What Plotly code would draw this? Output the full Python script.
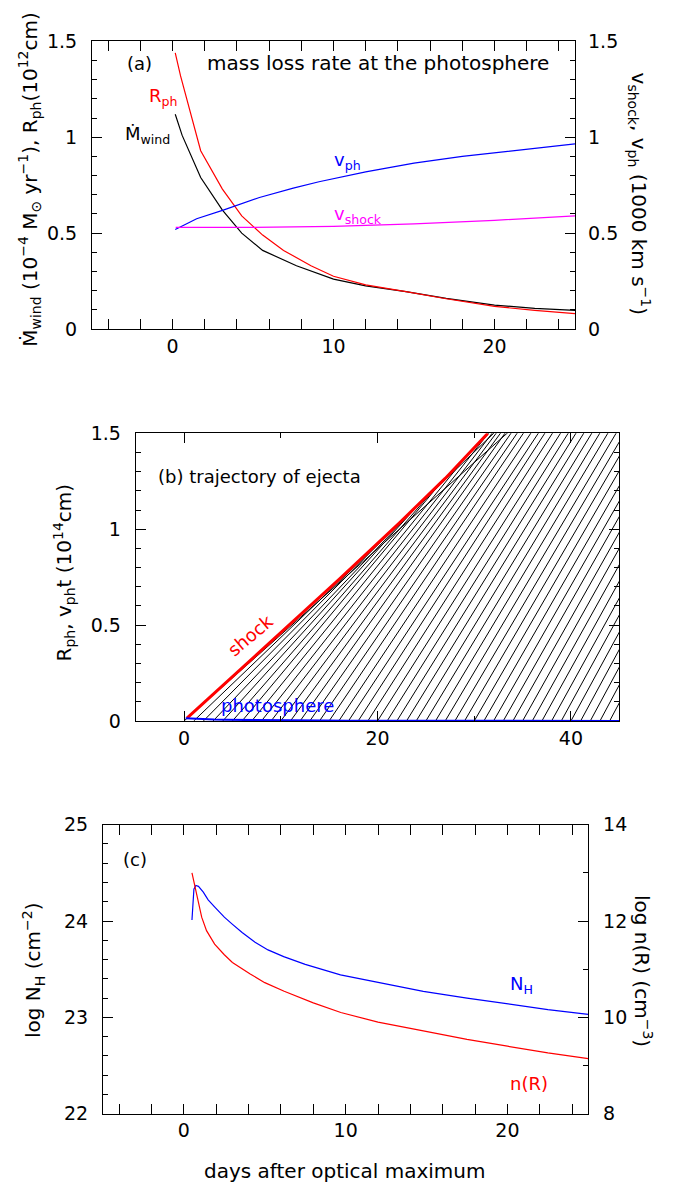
import numpy as np
import plotly.graph_objects as go

# ---------------- panel (a): wind mass-loss rate, photospheric radius, velocities
mdot_day = [0.17, 0.6, 1.75, 3.1, 4.3, 5.6, 7.7, 10, 12, 14.5, 17, 20, 22.5, 25]
mdot_val = [1.12, 1.01, 0.79, 0.62, 0.50, 0.41, 0.33, 0.26, 0.225, 0.195, 0.16, 0.125, 0.108, 0.097]

rph_day = [0.17, 0.5, 1.75, 3.1, 4.3, 5.6, 6.9, 8.6, 10, 12, 14.5, 17, 20, 22.5, 25]
rph_val = [1.44, 1.32, 0.93, 0.73, 0.59, 0.49, 0.41, 0.33, 0.275, 0.23, 0.195, 0.158, 0.118, 0.097, 0.08]

vph_day = [0.17, 1.5, 3.15, 5.4, 7.5, 9.1, 12, 15, 18, 20, 22.5, 25]
vph_val = [0.519, 0.575, 0.62, 0.686, 0.735, 0.768, 0.82, 0.865, 0.90, 0.918, 0.943, 0.966]

vsh_day = [0.2, 5, 10, 15, 20, 25]
vsh_val = [0.53, 0.53, 0.535, 0.548, 0.567, 0.59]

# ---------------- panel (b): shock front, photosphere and ejecta trajectories
shock_day = [0.3, 5, 10, 16, 22.3, 27, 31.4]
shock_r = [0.015, 0.23, 0.46, 0.737, 1.035, 1.265, 1.5]

phot_tail_day = 45
phot_tail_r = 0.0005

# launch day of each ejecta shell and its velocity (1000 km/s)
launch_day = list(range(0, 45))
launch_v = [0.52, 0.56, 0.59, 0.615, 0.645, 0.67, 0.70, 0.72, 0.74, 0.76,
            0.78, 0.80, 0.82, 0.835, 0.85, 0.865, 0.875, 0.885, 0.90, 0.91,
            0.918, 0.928, 0.938, 0.948, 0.957, 0.966, 0.975, 0.983, 0.991, 0.999,
            1.007, 1.014, 1.021, 1.028, 1.035, 1.042, 1.048, 1.054, 1.06, 1.066,
            1.072, 1.078, 1.083, 1.088, 1.093]

# ---------------- panel (c): column density and density at the photosphere
nh_day = [0.5, 0.55, 0.62, 0.74, 0.9, 1.2, 1.5, 1.94, 2.5, 2.97, 3.6, 4.4, 5.2, 6.17,
          7.5, 9.68, 12, 14.8, 17.5, 20, 22.5, 25]
nh_log = [24.01, 24.2, 24.33, 24.37, 24.36, 24.3, 24.22, 24.14, 24.04, 23.97, 23.88, 23.78,
          23.70, 23.63, 23.55, 23.44, 23.36, 23.27, 23.20, 23.14, 23.08, 23.03]

nr_day = [0.5, 0.6, 0.7, 0.85, 1.1, 1.4, 1.9, 2.5, 3.0, 4.1, 5, 6.2, 8, 9.7, 12, 14.8,
          17.5, 20, 22.5, 25]
nr_log = [13.0, 12.84, 12.68, 12.44, 12.08, 11.80, 11.52, 11.30, 11.14, 10.90, 10.72, 10.54,
          10.30, 10.10, 9.90, 9.72, 9.54, 9.40, 9.26, 9.14]

W, H = 678, 1194
FONT = "DejaVu Sans"
RED, BLUE, MAG = "#ff0000", "#0000ff", "#ff00ff"
KM_DAY = 0.0864  # 1000 km/s * 1 day in units of 1e14 cm


def px(x):
    return x / W


def py(y):
    return 1 - y / H


fig = go.Figure()

# panel (a)
fig.add_trace(go.Scatter(x=mdot_day, y=mdot_val, mode="lines",
                         line=dict(color="black", width=1.2), xaxis="x", yaxis="y"))
fig.add_trace(go.Scatter(x=rph_day, y=rph_val, mode="lines",
                         line=dict(color=RED, width=1.2), xaxis="x", yaxis="y"))
fig.add_trace(go.Scatter(x=vph_day, y=vph_val, mode="lines",
                         line=dict(color=BLUE, width=1.2), xaxis="x", yaxis="y2"))
fig.add_trace(go.Scatter(x=vsh_day, y=vsh_val, mode="lines",
                         line=dict(color=MAG, width=1.2), xaxis="x", yaxis="y2"))

# panel (b): ballistic trajectories ending where they meet the shock
hx, hy = [], []
for t0, v in zip(launch_day, launch_v):
    tt = np.linspace(t0, 70, 1400)
    rr = v * KM_DAY * (tt - t0)
    rs = np.interp(tt, shock_day, shock_r, right=np.inf)
    hit = np.nonzero((rr >= rs) & (tt > t0 + 0.01))[0]
    if hit.size:
        k = hit[0]
        hx += [t0, tt[k], None]
        hy += [0, rs[k], None]
    else:
        hx += [t0, tt[-1], None]
        hy += [0, rr[-1], None]
fig.add_trace(go.Scatter(x=hx, y=hy, mode="lines", line=dict(color="black", width=1),
                         xaxis="x2", yaxis="y3"))
fig.add_trace(go.Scatter(x=shock_day, y=shock_r, mode="lines",
                         line=dict(color=RED, width=3), xaxis="x2", yaxis="y3"))
phot_x = rph_day + [phot_tail_day]
phot_y = [r / 100 for r in rph_val] + [phot_tail_r]
fig.add_trace(go.Scatter(x=phot_x, y=phot_y, mode="lines",
                         line=dict(color=BLUE, width=2), xaxis="x2", yaxis="y3"))

# panel (c)
fig.add_trace(go.Scatter(x=nh_day, y=nh_log, mode="lines",
                         line=dict(color=BLUE, width=1.2), xaxis="x3", yaxis="y4"))
fig.add_trace(go.Scatter(x=nr_day, y=nr_log, mode="lines",
                         line=dict(color=RED, width=1.2), xaxis="x3", yaxis="y5"))

tickfont = dict(family=FONT, size=19, color="black")


def ax(**kw):
    base = dict(showgrid=False, zeroline=False, showline=True, linecolor="black",
                linewidth=1, ticks="inside", ticklen=10, tickcolor="black",
                tickwidth=1, tickfont=tickfont, fixedrange=True)
    base.update(kw)
    return base


def minor(d, n=5):
    return dict(dtick=d, ticks="inside", ticklen=n, tickcolor="black", tickwidth=1,
                showgrid=False)


layout = dict(
    width=W, height=H, margin=dict(l=0, r=0, t=0, b=0),
    paper_bgcolor="white", plot_bgcolor="white", showlegend=False,
    font=dict(family=FONT, size=18, color="black"),
    xaxis=ax(domain=[px(92), px(575)], range=[-5, 25], tick0=0, dtick=10,
             minor=minor(2), mirror="allticks", anchor="y", ticklabelstandoff=0),
    yaxis=ax(domain=[py(324), py(31)], range=[0, 1.5], tick0=0, dtick=0.5,
             minor=minor(0.1), mirror="allticks", anchor="x", ticklabelstandoff=10),
    yaxis2=ax(overlaying="y", side="right", range=[0, 1.5], tick0=0, dtick=0.5,
              ticks="", showline=False, anchor="x", ticklabelstandoff=12),
    xaxis2=ax(domain=[px(135.7), px(619.3)], range=[-5, 45], tick0=0, dtick=20,
              minor=minor(10), mirror="allticks", anchor="y3", ticklabelstandoff=0),
    yaxis3=ax(domain=[py(723.3), py(430.3)], range=[0, 1.5], tick0=0, dtick=0.5,
              minor=minor(0.1), mirror="allticks", anchor="x2", ticklabelstandoff=10),
    xaxis3=ax(domain=[px(103), px(588.3)], range=[-5, 25], tick0=0, dtick=10,
              minor=minor(2), mirror="allticks", anchor="y4", ticklabelstandoff=0),
    yaxis4=ax(domain=[py(1123.3), py(829)], range=[22, 25], tick0=22, dtick=1,
              minor=minor(0.2), mirror=False, anchor="x3", ticklabelstandoff=10),
    yaxis5=ax(overlaying="y4", side="right", range=[8, 14], tick0=8, dtick=2,
              minor=minor(1), anchor="x3", ticklabelstandoff=10),
)
fig.update_layout(**layout)


def note(text, x, y, color="black", angle=0, xanchor="center", size=18):
    fig.add_annotation(text=text, x=px(x), y=py(y), xref="paper", yref="paper",
                       showarrow=False, textangle=angle, xanchor=xanchor,
                       yanchor="middle", font=dict(family=FONT, size=size, color=color))


# panel (a) texts
note("(a)", 125, 53, xanchor="left")
note("mass loss rate at the photosphere", 205, 53, xanchor="left", size=20)
note("R<sub>ph</sub>", 147, 88, color=RED, xanchor="left")
note("Ṁ<sub>wind</sub>", 123, 126, xanchor="left")
note("v<sub>ph</sub>", 332, 153, color=BLUE, xanchor="left")
note("v<sub>shock</sub>", 332, 208, color=MAG, xanchor="left")
note("Ṁ<sub>wind</sub> (10<sup>−4</sup> M<sub>⊙</sub> yr<sup>−1</sup>), R<sub>ph</sub>(10<sup>12</sup>cm)",
     30, 172, angle=-90, size=20)
note("v<sub>shock</sub>, v<sub>ph</sub> (1000 km s<sup>−1</sup>)", 639, 186, angle=90, size=20)

# panel (b) texts
note("(b) trajectory of ejecta", 156, 474, xanchor="left")
note("shock", 250, 636, color=RED, angle=-40)
note("photosphere", 277, 708, color=BLUE)
note("R<sub>ph</sub>, v<sub>ph</sub>t (10<sup>14</sup>cm)", 64, 572, angle=-90, size=20)

# panel (c) texts
note("(c)", 121, 864, xanchor="left")
note("N<sub>H</sub>", 508, 992, color=BLUE, xanchor="left")
note("n(R)", 508, 1093, color=RED, xanchor="left")
note("log N<sub>H</sub> (cm<sup>−2</sup>)", 34, 978, angle=-90, size=20)
note("log n(R) (cm<sup>−3</sup>)", 643, 978, angle=90, size=20)
note("days after optical maximum", 345, 1182, size=20)

fig.write_html("out.html")
